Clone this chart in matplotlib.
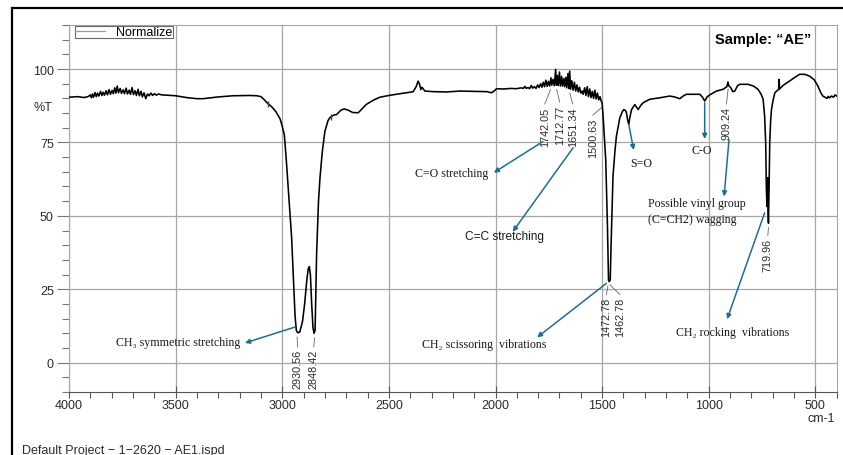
import matplotlib
matplotlib.use("Agg")
import matplotlib.pyplot as plt
from matplotlib.lines import Line2D
from matplotlib.patches import Rectangle

# ---- spectrum (wavenumber cm-1, %T) ----
WAVENUMBER = [
    4000, 3960, 3930, 3911,
    3900, 3895, 3890, 3885, 3878, 3872, 3866, 3860, 3852, 3846, 3840, 3834,
    3826, 3820, 3812, 3806, 3798, 3792, 3786, 3780, 3774, 3768, 3760, 3754,
    3746, 3740, 3732, 3726, 3718, 3712, 3704, 3698, 3690, 3684, 3676, 3670,
    3662, 3656, 3648, 3640, 3632, 3624, 3616, 3608, 3600, 3590, 3580, 3565,
    3500, 3450, 3400, 3372, 3300, 3231, 3150, 3119, 3100, 3085, 3070, 3050,
    3030, 3010, 3000, 2990, 2980, 2972, 2964, 2956, 2949, 2940, 2934, 2928,
    2918, 2905, 2895, 2885, 2878, 2873, 2868, 2862, 2856, 2851, 2846, 2839,
    2830, 2823, 2812, 2800, 2785, 2777, 2760, 2745, 2725, 2710, 2691, 2670,
    2644, 2625, 2605, 2570, 2542, 2500, 2448, 2400, 2386, 2372, 2363, 2356,
    2350, 2345, 2331, 2292, 2230, 2167, 2100, 2040, 2019, 2005, 1995, 1960,
    1930, 1902, 1880,
    1870, 1862, 1856, 1848, 1840, 1832, 1826, 1818, 1810, 1802, 1796, 1788,
    1782, 1776, 1770, 1764, 1758, 1752, 1746, 1740, 1736, 1730, 1724, 1718,
    1714, 1710, 1706, 1700, 1696, 1690, 1686, 1680, 1676, 1670, 1666, 1660,
    1656, 1652, 1648, 1642, 1636, 1630, 1624, 1618, 1612, 1606, 1600, 1594,
    1589, 1582, 1576, 1570, 1564, 1558, 1552, 1546, 1540, 1534, 1528, 1522,
    1516, 1510, 1505, 1500, 1495, 1488, 1483, 1475, 1470, 1466, 1462, 1458,
    1449, 1440, 1433, 1417, 1405, 1398, 1390, 1386, 1380, 1375, 1370, 1362,
    1347, 1331, 1320, 1308, 1277, 1230, 1183, 1160, 1136, 1120, 1105, 1042,
    1030, 1019, 1008, 995, 964, 933, 915, 910, 906, 895, 888, 878, 865, 855,
    816, 790, 769, 755, 745, 738, 733, 730, 727, 724, 722, 720, 717, 714, 710,
    706, 698, 690, 680, 672, 670, 668, 650, 621, 600, 574, 550, 527, 505, 488,
    475, 465, 455, 445, 440, 433, 425, 415, 408, 400,
]
TRANSMITTANCE = [
    90.4, 90.6, 90.3, 90.6,
    91.2, 90.2, 91.5, 90.4, 92.0, 90.6, 91.8, 90.8, 92.4, 91.0, 92.1, 91.1,
    92.6, 91.2, 93.0, 91.4, 92.7, 91.6, 93.6, 91.8, 94.2, 91.9, 93.4, 91.7,
    92.9, 91.6, 93.5, 91.5, 92.8, 91.4, 93.7, 91.3, 92.6, 91.0, 93.1, 90.9,
    92.4, 90.5, 91.9, 89.9, 91.5, 90.9, 91.8, 91.0, 91.6, 91.1, 91.5, 91.2,
    90.9, 90.3, 89.9, 89.9, 90.5, 90.9, 91.0, 90.9, 90.6, 89.6, 88.4, 87.2,
    85.5, 83.0, 80.5, 77.5, 68.0, 59.6, 51.0, 42.5, 31.0, 16.0, 11.0, 10.2,
    10.4, 14.0, 20.0, 28.0, 32.0, 32.7, 30.0, 20.0, 12.0, 10.0, 11.0, 36.7,
    55.0, 63.0, 72.0, 78.8, 82.5, 83.4, 84.3, 84.5, 86.0, 86.4, 86.0, 85.2,
    85.1, 86.5, 88.0, 89.5, 90.4, 91.0, 91.6, 92.1, 92.3, 94.0, 95.9, 94.8,
    93.0, 93.8, 92.5, 92.3, 92.2, 92.5, 92.4, 92.3, 91.9, 92.6, 93.3, 93.2,
    93.4, 93.3, 93.6,
    93.4, 94.1, 93.4, 93.7, 93.3, 94.4, 93.5, 94.0, 93.4, 94.6, 93.7, 95.0,
    93.8, 95.5, 94.0, 96.2, 94.1, 95.8, 94.2, 97.0, 94.5, 96.5, 94.3, 99.9,
    94.5, 97.8, 94.4, 99.0, 94.2, 97.5, 94.2, 96.8, 94.0, 97.2, 93.6, 98.5,
    93.4, 99.3, 93.1, 96.0, 92.8, 95.5, 92.5, 94.6, 92.2, 93.8, 91.8, 92.5,
    91.4, 93.6, 91.0, 94.0, 90.6, 93.2, 90.3, 92.4, 90.0, 92.8, 89.8, 91.8,
    89.5, 90.6, 89.2, 88.5, 83.4, 75.0, 69.0, 46.4, 28.0, 27.6, 28.2, 40.0,
    63.5, 72.0, 77.1, 83.4, 85.5, 86.2, 85.8, 85.1, 82.5, 81.1, 83.5, 86.2,
    87.9, 86.2, 87.5, 88.5, 89.7, 90.2, 90.8, 90.5, 89.9, 90.8, 91.4, 91.4,
    90.5, 89.1, 90.5, 91.2, 92.5, 93.1, 94.0, 95.6, 94.3, 93.5, 92.3, 92.5, 94.3, 94.8,
    94.8, 94.2, 93.1, 91.5, 89.7, 84.0, 74.9, 60.0, 53.2, 63.0, 52.0, 47.5, 60.0, 75.0, 82.0,
    86.2, 89.5, 91.9, 92.6, 93.1, 96.5, 93.2, 94.5, 95.9, 97.0, 98.2, 98.2, 97.6, 96.3, 94.2,
    92.0, 90.8, 90.4, 90.0, 90.7, 90.2, 90.8, 90.4, 91.2, 90.8,
]

# peak-pick labels printed by the instrument software
PEAK_LABELS = ["2930.56", "2848.42", "1742.05", "1712.77", "1651.34",
               "1500.63", "1472.78", "1462.78", "909.24", "719.96"]
PEAK_WN = [2930.56, 2848.42, 1742.05, 1712.77, 1651.34,
           1500.63, 1472.78, 1462.78, 909.24, 719.96]
PEAK_T = [10.2, 10.0, 94.5, 94.5, 93.3, 88.5, 27.6, 28.0, 94.6, 47.5]
# where each label's top end sits (wn, %T)
PEAK_TEXT_POS = [(2928, 4.6), (2852, 4.6), (1769, 87.3), (1699, 87.9), (1638, 87.3),
                 (1544, 83.5), (1480, 22.4), (1417, 22.4), (917, 87.3), (723, 42.5)]

X_TICKS = [4000, 3500, 3000, 2500, 2000, 1500, 1000, 500]
Y_TICKS = [0, 25, 50, 75, 100]

ARROW = "#1f6d96"
GRID = "#a6a6a6"
TEXT = "#2b2b2b"
SERIF = ["Liberation Serif", "DejaVu Serif"]
SANS = ["Liberation Sans", "DejaVu Sans"]

plt.rcParams["font.family"] = SANS

fig = plt.figure(figsize=(8.43, 4.56), dpi=100)
W, H = 843, 456
ax = fig.add_axes([69 / W, 1 - 393 / H, (836.7 - 69) / W, (393 - 26) / H])

# outer black frame of the screenshot
fig.patches.append(Rectangle((12 / W, -0.2), 1.2, 1 - 9 / H + 0.2,
                             transform=fig.transFigure, fill=False,
                             edgecolor="black", linewidth=1.6))

ax.plot(WAVENUMBER, TRANSMITTANCE, color="black", linewidth=1.15, zorder=3)
ax.plot([3066, 2770], [88.0, 83.6], linestyle="none", marker="|",
        markersize=5, color="#444444", zorder=3)

ax.set_xlim(4000, 400)
ax.set_ylim(-10, 115)
ax.set_xticks(X_TICKS)
ax.set_xticks(range(4000, 399, -100), minor=True)
ax.set_yticks(Y_TICKS)
ax.set_yticks(range(-10, 116, 5), minor=True)
ax.grid(True, which="major", color=GRID, linewidth=0.9, zorder=0)
for side in ["top", "right", "left"]:
    ax.spines[side].set_color(GRID)
ax.spines["bottom"].set_color("#555555")
ax.tick_params(axis="x", which="major", direction="inout", length=8, width=0.8,
               colors="#555555", labelcolor=TEXT, labelsize=9, pad=1)
ax.tick_params(axis="x", which="minor", direction="out", length=4, width=0.8,
               colors="#555555")
ax.tick_params(axis="y", which="major", direction="out", length=9, width=0.8,
               colors="#777777", labelcolor=TEXT, labelsize=9, pad=2)
ax.tick_params(axis="y", which="minor", direction="out", length=5, width=0.8,
               colors="#777777")

fig.text(43 / W, 1 - 108 / H, "%T", ha="center", va="center", fontsize=9, color=TEXT)
fig.text(835 / W, 1 - 419 / H, "cm-1", ha="right", va="center", fontsize=9, color=TEXT)
fig.text(22 / W, 1 - 451 / H, "Default Project \u2212 1\u22122620 \u2212 AE1.ispd",
         ha="left", va="center", fontsize=9, color=TEXT)
fig.text(715 / W, 1 - 40 / H, "Sample: \u201cAE\u201d", ha="left", va="center",
         fontsize=10.5, fontweight="bold", color="black")

leg = ax.legend(handles=[Line2D([], [], color="#9a9a9a", linewidth=0.9)],
                labels=["Normalize"], loc="upper left",
                bbox_to_anchor=(6 / 767.7, 1 - 1 / 367), fontsize=9,
                frameon=True, fancybox=False, borderpad=0.0, handlelength=2.4,
                handletextpad=0.9, borderaxespad=0)
leg.get_frame().set_edgecolor("#444444")
leg.get_frame().set_linewidth(0.8)

# peak labels with leader lines
for label, wn, t, (tx, ty) in zip(PEAK_LABELS, PEAK_WN, PEAK_T, PEAK_TEXT_POS):
    ax.plot([wn, tx], [t - 1.5, ty + 0.8], color="#666666", linewidth=0.6, zorder=2)
    ax.text(tx, ty, label, rotation=90, ha="center", va="top",
            fontsize=7.8, color=TEXT, zorder=4)

# band assignments: (text, tail, head, text pos, ha, family)
BANDS = [
    ("CH\u2083 symmetric stretching", (2941, 12.1), (3175, 6.7), (3198, 6.9), "right", SERIF),
    ("C=O stretching", (1778, 75.3), (2008, 64.7), (2036, 64.6), "right", SERIF),
    ("C=C stretching", (1636, 73.2), (1919, 44.6), (2144, 43.0), "left", SANS),
    ("S=O", (1375, 81.1), (1352, 72.4), (1316, 68.0), "center", SERIF),
    ("C-O", (1019, 88.5), (1019, 76.2), (1034, 72.3), "center", SERIF),
    ("Possible vinyl group\n(C=CH2) wagging", (905, 76.0), (928, 56.6), (1286, 51.6), "left", SERIF),
    ("CH\u2082 rocking  vibrations", (738, 51.0), (914, 14.8), (1155, 10.5), "left", SERIF),
    ("CH\u2082 scissoring  vibrations", (1480, 27.0), (1805, 8.6), (2347, 6.2), "left", SERIF),
]
for text, tail, head, pos, ha, fam in BANDS:
    ax.annotate("", xy=head, xytext=tail,
                arrowprops=dict(arrowstyle="-|>", color=ARROW, lw=1.1,
                                mutation_scale=7, shrinkA=0, shrinkB=0), zorder=5)
    ax.text(pos[0], pos[1], text, ha=ha, va="center", fontsize=8.6,
            family=fam, color="#1a1a1a", linespacing=1.4, zorder=5)

fig.savefig("out.png", dpi=100, facecolor="white")
